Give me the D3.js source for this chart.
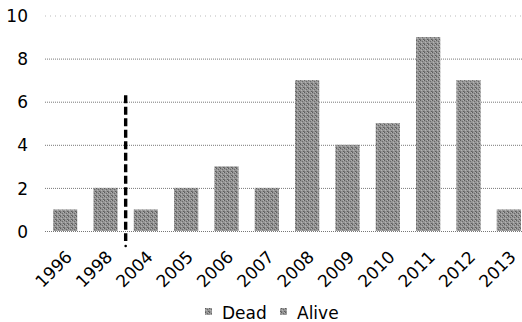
<!DOCTYPE html>
<html>
<head>
<meta charset="utf-8">
<script src="https://cdn.jsdelivr.net/npm/d3@7"></script>
<style>
  html, body { margin: 0; padding: 0; background: #fff; }
  svg { display: block; font-family: "DejaVu Sans", Verdana, sans-serif; }
</style>
</head>
<body>
<svg id="chart" width="522" height="322"></svg>
<script>
// Counts per year
const years = ["1996", "1998", "2004", "2005", "2006", "2007", "2008", "2009", "2010", "2011", "2012", "2013"];
const counts = [1, 2, 1, 2, 3, 2, 7, 4, 5, 9, 7, 1];
const yTicks = [0, 2, 4, 6, 8, 10];
const legendLabels = ["Dead", "Alive"];
// Marker drawn between two categories, up to this value
const markerBetween = ["1998", "2004"];
const markerTop = 6.3;

const svg = d3.select("#chart");

// Stippled grey fill for the bars
const defs = svg.append("defs");
const pat = defs.append("pattern").attr("id", "stipple")
  .attr("patternUnits", "userSpaceOnUse").attr("width", 4).attr("height", 4);
pat.append("rect").attr("width", 4).attr("height", 4).attr("fill", "#969696");
const dots = [[0, 0, "#5c5c5c"], [2, 1, "#6a6a6a"], [1, 2, "#b4b4b4"], [3, 3, "#5e5e5e"], [3, 0, "#b0b0b0"], [0, 3, "#767676"]];
dots.forEach(([dx, dy, c]) => pat.append("rect").attr("x", dx).attr("y", dy).attr("width", 1).attr("height", 1).attr("fill", c));

const x = d3.scaleBand().domain(years).range([45, 529]).paddingInner(0.4).paddingOuter(0.2);
const y = d3.scaleLinear().domain([0, 10]).range([231, 15.5]);

// Gridlines
svg.append("g").selectAll("line").data(yTicks).join("line")
  .attr("x1", 45).attr("x2", 522)
  .attr("y1", d => y(d) + 0.5).attr("y2", d => y(d) + 0.5)
  .attr("stroke", d => d === 10 ? "#bbb" : "#777")
  .attr("stroke-width", 1)
  .attr("stroke-dasharray", d => d === 10 ? "1,4" : "1,1");

// Y axis labels
const yAxis = d3.axisLeft(y).tickValues(yTicks).tickSize(0).tickPadding(0);
svg.append("g").attr("transform", "translate(28,0)").call(yAxis)
  .call(g => g.select(".domain").remove())
  .call(g => g.selectAll("text").attr("font-size", 17).attr("fill", "#000")
    .attr("font-family", "DejaVu Sans, Verdana, sans-serif").attr("dy", "0.36em"));

// Bars
svg.append("g").selectAll("rect").data(years).join("rect")
  .attr("x", d => x(d))
  .attr("y", (d, i) => y(counts[i]))
  .attr("width", x.bandwidth())
  .attr("height", (d, i) => y(0) - y(counts[i]))
  .attr("fill", "url(#stipple)");

// X axis labels, rotated
const xAxis = d3.axisBottom(x).tickSize(0).tickPadding(0);
svg.append("g").attr("transform", "translate(0,249)").call(xAxis)
  .call(g => g.select(".domain").remove())
  .call(g => g.selectAll("text")
    .attr("font-size", 17).attr("fill", "#000")
    .attr("font-family", "DejaVu Sans, Verdana, sans-serif")
    .attr("text-anchor", "end")
    .attr("dy", "0.75em")
    .attr("transform", "translate(-1,0) rotate(-45)"));

// Vertical dashed marker
const mx = (x(markerBetween[0]) + x.bandwidth() + x(markerBetween[1])) / 2;
svg.append("line")
  .attr("x1", mx).attr("x2", mx)
  .attr("y1", y(markerTop)).attr("y2", 241)
  .attr("stroke", "#000").attr("stroke-width", 3.4)
  .attr("stroke-dasharray", "8,3.5");
svg.append("circle").attr("cx", mx).attr("cy", 246).attr("r", 1.3).attr("fill", "#000");

// Legend
const legend = svg.append("g").attr("transform", "translate(205,0)");
const lx = [0, 75];
legendLabels.forEach((lab, i) => {
  legend.append("rect").attr("x", lx[i]).attr("y", 308).attr("width", 7).attr("height", 7)
    .attr("fill", "url(#stipple)");
  legend.append("text").attr("x", lx[i] + 17).attr("y", 319)
    .attr("font-size", 17).attr("fill", "#000").text(lab);
});
</script>
</body>
</html>
